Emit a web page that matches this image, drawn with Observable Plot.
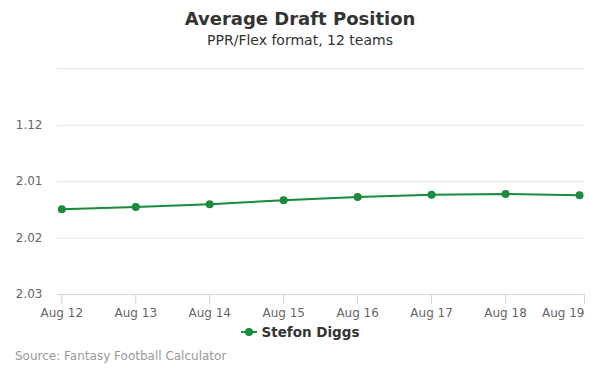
<!DOCTYPE html>
<html>
<head>
<meta charset="utf-8">
<script src="https://cdn.jsdelivr.net/npm/d3@7"></script>
<script src="https://cdn.jsdelivr.net/npm/@observablehq/plot@0.6"></script>
<style>
  html, body { margin: 0; padding: 0; background: #fff; }
  body { font-family: "DejaVu Sans", sans-serif; width: 600px; height: 375px; overflow: hidden; }
  #header { height: 58px; box-sizing: border-box; padding-top: 7px; text-align: center; }
  #title { font-size: 18px; font-weight: bold; color: #333333; line-height: 24px; }
  #subtitle { font-size: 14px; color: #333333; line-height: 18px; }
  #chart svg { display: block; }
  #legend { height: 24px; line-height: 24px; text-align: center; font-size: 13.5px; font-weight: bold; color: #333333; }
  #legend svg { vertical-align: middle; margin-right: 5px; position: relative; top: -1px; }
  #source { height: 24px; line-height: 24px; padding-left: 15px; font-size: 12px; color: #999999; }
  [aria-label="x-axis tick"] { stroke: #ccd6eb; }
</style>
</head>
<body>
<div id="header">
  <div id="title">Average Draft Position</div>
  <div id="subtitle">PPR/Flex format, 12 teams</div>
</div>
<div id="chart"></div>
<div id="legend"></div>
<div id="source">Source: Fantasy Football Calculator</div>
<script>
// Data
const player = "Stefon Diggs";
const dates = ["2021-08-12", "2021-08-13", "2021-08-14", "2021-08-15", "2021-08-16", "2021-08-17", "2021-08-18", "2021-08-19"];
const picks = [13.49, 13.45, 13.40, 13.33, 13.27, 13.23, 13.22, 13.24];
const gridPicks = [11, 12, 13, 14, 15];
const tickPicks = [12, 13, 14, 15];
const tickLabels = ["1.12", "2.01", "2.02", "2.03"];

const color = "#1a8a3c";
const parsed = dates.map(d => new Date(d + "T00:00:00Z"));
const data = parsed.map((d, i) => ({date: d, pick: picks[i]}));
const labelOf = new Map(tickPicks.map((p, i) => [p, tickLabels[i]]));
const fmt = d3.utcFormat("%b %d");
const xAxisOpts = {tickFormat: fmt, tickSize: 10, tickPadding: 4, fontSize: 12, color: "#666666", label: null};

const chart = Plot.plot({
  width: 600,
  height: 262,
  marginTop: 10.3,
  marginBottom: 26,
  marginLeft: 57,
  marginRight: 15,
  style: {fontFamily: "DejaVu Sans, sans-serif", background: "#fff"},
  x: {type: "utc", domain: [parsed[0], parsed[parsed.length - 1]], insetLeft: 4.3, insetRight: 6},
  y: {domain: [11, 15], reverse: true},
  marks: [
    Plot.gridY(gridPicks, {stroke: "#e6e6e6", strokeOpacity: 1}),
    Plot.ruleY([15], {stroke: "#ccd6eb", strokeWidth: 1}),
    Plot.axisX({...xAxisOpts, ticks: parsed.slice(0, -1)}),
    Plot.axisX({...xAxisOpts, ticks: parsed.slice(-1), textAnchor: "end", dx: 5}),
    Plot.axisY({ticks: tickPicks, tickFormat: d => labelOf.get(d), tickSize: 0, tickPadding: 15, fontSize: 12, color: "#666666", label: null}),
    Plot.line(data, {x: "date", y: "pick", stroke: color, strokeWidth: 2}),
    Plot.dot(data, {x: "date", y: "pick", r: 4, fill: color, stroke: "none"})
  ]
});
document.getElementById("chart").appendChild(chart);

// Legend
const legend = document.getElementById("legend");
const sym = d3.create("svg").attr("width", 16).attr("height", 10);
sym.append("line").attr("x1", 0).attr("x2", 16).attr("y1", 5).attr("y2", 5).attr("stroke", color).attr("stroke-width", 2);
sym.append("circle").attr("cx", 8).attr("cy", 5).attr("r", 4).attr("fill", color);
legend.appendChild(sym.node());
legend.appendChild(document.createTextNode(player));
</script>
</body>
</html>
